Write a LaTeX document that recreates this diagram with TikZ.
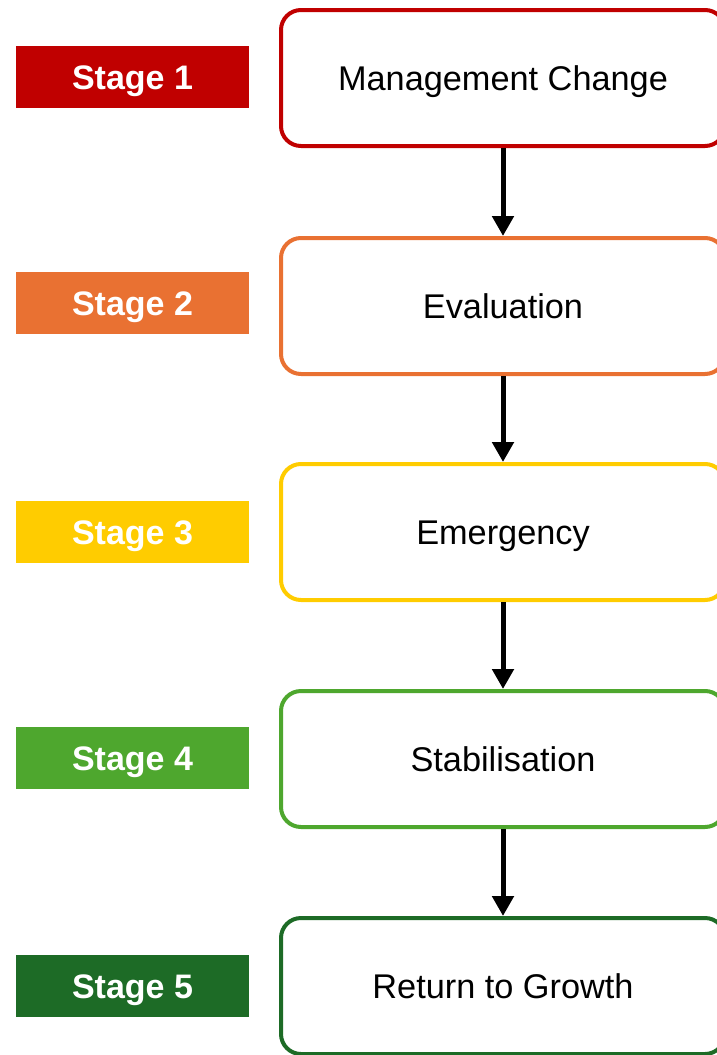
\documentclass[tikz,border=0pt]{standalone}
\usepackage{fontspec}
\setmainfont{Liberation Sans}
\usetikzlibrary{arrows.meta}
\definecolor{cA}{HTML}{C00000}
\definecolor{cB}{HTML}{E97132}
\definecolor{cC}{HTML}{FFCC00}
\definecolor{cD}{HTML}{4EA72E}
\definecolor{cE}{HTML}{1D6B26}
\tikzset{
  stagelbl/.style={fill=#1, draw=none, minimum width=233pt, minimum height=62pt, inner sep=0pt,
    text=white, font=\fontsize{34}{40}\selectfont\bfseries, anchor=center,
    text height=24pt, text depth=0pt},
  phasebox/.style={draw=#1, fill=white, line width=4pt, rounded corners=20pt,
    minimum width=444pt, minimum height=136pt, inner sep=0pt,
    font=\fontsize{34.3}{40}\selectfont, anchor=center,
    text height=24pt, text depth=0pt},
  flow/.style={line width=5pt, -{Triangle[width=21pt,length=20pt]}}
}
\begin{document}
\begin{tikzpicture}[x=1pt,y=-1pt]
\useasboundingbox (0,0) rectangle (717,1055);
\clip (0,0) rectangle (717,1055);
\node[stagelbl=cA] (s1) at (132.5,77) {Stage 1};
\node[stagelbl=cB] (s2) at (132.5,303) {Stage 2};
\node[stagelbl=cC] (s3) at (132.5,532) {Stage 3};
\node[stagelbl=cD] (s4) at (132.5,758) {Stage 4};
\node[stagelbl=cE] (s5) at (132.5,986) {Stage 5};
\node[phasebox=cA] (b1) at (503,78) {Management Change};
\node[phasebox=cB] (b2) at (503,306) {Evaluation};
\node[phasebox=cC] (b3) at (503,532) {Emergency};
\node[phasebox=cD] (b4) at (503,759) {Stabilisation};
\node[phasebox=cE] (b5) at (503,986) {Return to Growth};
\draw[flow] (b1.south) -- (b2.north);
\draw[flow] (b2.south) -- (b3.north);
\draw[flow] (b3.south) -- (b4.north);
\draw[flow] (b4.south) -- (b5.north);
\end{tikzpicture}
\end{document}
